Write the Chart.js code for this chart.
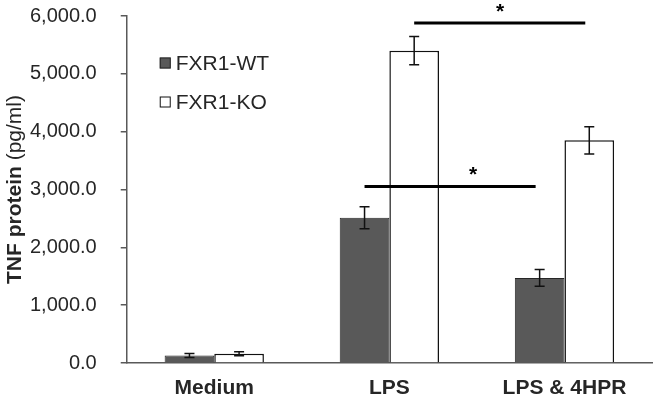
<!DOCTYPE html>
<html>
<head>
<meta charset="utf-8">
<script src="https://cdn.jsdelivr.net/npm/chart.js@4.4.0/dist/chart.umd.min.js"></script>
<style>
html, body { margin: 0; padding: 0; background: #fff; }
</style>
</head>
<body>
<canvas id="barchart" width="657" height="402"></canvas>
<script>
// data
const groups = ['Medium', 'LPS', 'LPS & 4HPR'];
const wtValues = [130, 2510, 1470];
const wtErrors = [35, 190, 145];
const koValues = [160, 5400, 3850];
const koErrors = [35, 245, 235];
const yTicks = [0, 1000, 2000, 3000, 4000, 5000, 6000];
// significance bars: [dataset, group] at both ends, height in pg/ml
const sigFrom = [[0, 1], [1, 1]];
const sigTo = [[0, 2], [1, 2]];
const sigLevel = [3050, 5880];

const errors = [wtErrors, koErrors];
const textColor = '#262626';
const font = 'Liberation Sans, Arial, sans-serif';

const errorBars = {
    id: 'errorBars',
    afterDatasetsDraw(chart) {
        const ctx = chart.ctx;
        const y = chart.scales.y;
        ctx.save();
        ctx.strokeStyle = '#111';
        ctx.lineWidth = 1.5;
        chart.data.datasets.forEach((ds, d) => {
            chart.getDatasetMeta(d).data.forEach((bar, i) => {
                const v = ds.data[i], e = errors[d][i];
                const top = y.getPixelForValue(v + e);
                const bot = y.getPixelForValue(v - e);
                ctx.beginPath();
                ctx.moveTo(bar.x, top); ctx.lineTo(bar.x, bot);
                ctx.moveTo(bar.x - 5, top); ctx.lineTo(bar.x + 5, top);
                ctx.moveTo(bar.x - 5, bot); ctx.lineTo(bar.x + 5, bot);
                ctx.stroke();
            });
        });
        ctx.restore();
    }
};

const sigMarks = {
    id: 'sigMarks',
    afterDatasetsDraw(chart) {
        const ctx = chart.ctx;
        const y = chart.scales.y;
        const starAt = [0.62, 0.49];
        ctx.save();
        ctx.strokeStyle = '#000';
        ctx.lineWidth = 3;
        ctx.fillStyle = '#000';
        ctx.font = 'bold 21px ' + font;
        ctx.textAlign = 'center';
        ctx.textBaseline = 'middle';
        sigLevel.forEach((lvl, k) => {
            const a = chart.getDatasetMeta(sigFrom[k][0]).data[sigFrom[k][1]];
            const b = chart.getDatasetMeta(sigTo[k][0]).data[sigTo[k][1]];
            const py = y.getPixelForValue(lvl);
            ctx.beginPath();
            ctx.moveTo(a.x, py); ctx.lineTo(b.x - 4, py);
            ctx.stroke();
            ctx.fillText('*', a.x + (b.x - a.x) * starAt[k], py - 11);
        });
        ctx.restore();
    }
};

const legendBox = {
    id: 'legendBox',
    afterDraw(chart) {
        const ctx = chart.ctx;
        const x0 = chart.chartArea.left + 33;
        const rows = [chart.chartArea.top + 47, chart.chartArea.top + 86];
        ctx.save();
        ctx.font = '21px ' + font;
        ctx.textBaseline = 'middle';
        chart.data.datasets.forEach((ds, d) => {
            const cy = rows[d];
            ctx.fillStyle = ds.backgroundColor;
            ctx.fillRect(x0, cy - 5.5, 11, 11);
            ctx.strokeStyle = ds.borderColor;
            ctx.lineWidth = 1;
            ctx.strokeRect(x0 + 0.5, cy - 5, 10, 10);
            ctx.fillStyle = textColor;
            ctx.fillText(ds.label, x0 + 16, cy + 1);
        });
        ctx.restore();
    }
};

const yTitle = {
    id: 'yTitle',
    afterDraw(chart) {
        const ctx = chart.ctx;
        const area = chart.chartArea;
        const bold = 'TNF protein ';
        const normal = '(pg/ml)';
        ctx.save();
        ctx.translate(15, (area.top + area.bottom) / 2);
        ctx.rotate(-Math.PI / 2);
        ctx.textBaseline = 'middle';
        ctx.fillStyle = textColor;
        ctx.font = 'bold 21px ' + font;
        const w1 = ctx.measureText(bold).width;
        ctx.font = '21px ' + font;
        const w2 = ctx.measureText(normal).width;
        const start = -(w1 + w2) / 2;
        ctx.font = 'bold 21px ' + font;
        ctx.fillText(bold, start, 0);
        ctx.font = '21px ' + font;
        ctx.fillText(normal, start + w1, 0);
        ctx.restore();
    }
};

const ctx = document.getElementById('barchart').getContext('2d');
const barchart = new Chart(ctx, {
    type: 'bar',
    data: {
        labels: groups,
        datasets: [{
            label: 'FXR1-WT',
            data: wtValues,
            backgroundColor: '#595959',
            borderColor: '#262626',
            borderWidth: 1
        }, {
            label: 'FXR1-KO',
            data: koValues,
            backgroundColor: '#ffffff',
            borderColor: '#111111',
            borderWidth: 1.5
        }]
    },
    options: {
        responsive: false,
        animation: false,
        layout: { padding: { left: 6, right: 5, top: 16, bottom: 0 } },
        plugins: {
            legend: { display: false },
            tooltip: { enabled: false }
        },
        datasets: {
            bar: { categoryPercentage: 0.567, barPercentage: 1 }
        },
        scales: {
            x: {
                grid: { display: false },
                border: { display: true, color: '#595959', width: 1.5 },
                ticks: { color: textColor, font: { family: font, size: 21, weight: 'bold' }, padding: 5 },
                afterFit(axis) { axis.height = 39; }
            },
            y: {
                min: 0,
                max: 6000,
                afterBuildTicks(axis) { axis.ticks = yTicks.map(v => ({ value: v })); },
                afterFit(axis) { axis.paddingTop = 0; axis.paddingBottom = 0; },
                grid: { drawOnChartArea: false, drawTicks: true, tickLength: 6, color: '#595959', lineWidth: 1.5 },
                border: { display: true, color: '#595959', width: 1.5 },
                ticks: {
                    color: textColor,
                    font: { family: font, size: 20 },
                    padding: 24,
                    callback: v => v.toLocaleString('en-US', { minimumFractionDigits: 1, maximumFractionDigits: 1 })
                }
            }
        }
    },
    plugins: [errorBars, sigMarks, legendBox, yTitle]
});
</script>
</body>
</html>
